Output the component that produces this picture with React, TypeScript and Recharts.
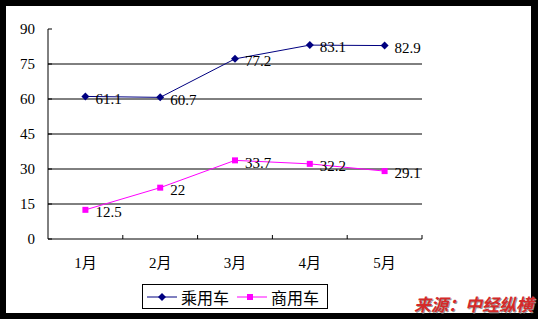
import { LineChart, Line, XAxis, YAxis, CartesianGrid } from "recharts";

const categories = ["1月", "2月", "3月", "4月", "5月"];
const passenger = [61.1, 60.7, 77.2, 83.1, 82.9];
const commercial = [12.5, 22, 33.7, 32.2, 29.1];
const seriesNames = ["乘用车", "商用车"];
const yTicks = [0, 15, 30, 45, 60, 75, 90];
const gridValues = [15, 30, 45, 60, 75];

const data = categories.map((month, i) => ({
  month,
  passenger: passenger[i],
  commercial: commercial[i],
}));

const W = 538;
const H = 319;
const margin = { top: 29, right: 116, left: 0, bottom: 50 };
const yAxisWidth = 48;
const bandWidth = (W - margin.left - margin.right - yAxisWidth) / categories.length;

const serif = "'Liberation Serif', 'Noto Sans CJK SC', serif";
const NAVY = "#000080";
const MAGENTA = "#FF00FF";

function Diamond({ cx, cy, fill }: any) {
  if (cx == null || cy == null) return null;
  return (
    <path
      d={`M${cx},${cy - 4}L${cx + 4},${cy}L${cx},${cy + 4}L${cx - 4},${cy}Z`}
      fill={fill}
    />
  );
}

function Square({ cx, cy, fill }: any) {
  if (cx == null || cy == null) return null;
  return <rect x={cx - 3} y={cy - 3} width={6} height={6} fill={fill} />;
}

function YTick({ x, y, payload }: any) {
  return (
    <g>
      <text x={x} y={y} dy="0.35em" textAnchor="end" fontSize={15} fontFamily={serif} fill="#000">
        {payload.value}
      </text>
      <line x1={x + 13} x2={x + 17} y1={y} y2={y} stroke="#000" />
    </g>
  );
}

function XTick({ x, y, payload, index }: any) {
  const last = index === categories.length - 1;
  return (
    <g>
      <text x={x} y={y + 24} dy="0.35em" textAnchor="middle" fontSize={15} fontFamily={serif} fill="#000">
        {payload.value}
      </text>
      {index > 0 && (
        <line x1={x - bandWidth / 2} x2={x - bandWidth / 2} y1={y - 4} y2={y} stroke="#000" />
      )}
      {last && (
        <line x1={x + bandWidth / 2} x2={x + bandWidth / 2} y1={y - 4} y2={y} stroke="#000" />
      )}
    </g>
  );
}

const labelStyle = {
  position: "right" as const,
  offset: 10,
  fill: "#000",
  fontSize: 15,
  fontFamily: serif,
  dy: 2,
};

export default function App() {
  return (
    <div style={{ position: "absolute", left: 0, top: 0, width: W, height: H, background: "#fff" }}>
      <div
        style={{
          position: "absolute",
          left: 0,
          top: 0,
          width: W,
          height: H,
          boxSizing: "border-box",
          borderStyle: "solid",
          borderColor: "#000",
          borderWidth: "6px 7px 6px 6px",
        }}
      />
      <div style={{ position: "absolute", left: 0, top: 0 }}>
        <LineChart width={W} height={H} data={data} margin={margin}>
          <CartesianGrid
            horizontal
            vertical={false}
            horizontalValues={gridValues}
            stroke="#000"
            strokeOpacity={1}
          />
          <XAxis
            dataKey="month"
            height={30}
            padding={{ left: bandWidth / 2, right: bandWidth / 2 }}
            axisLine={{ stroke: "#000" }}
            tickLine={false}
            tickSize={0}
            tickMargin={0}
            interval={0}
            tick={<XTick />}
          />
          <YAxis
            width={yAxisWidth}
            domain={[0, 90]}
            ticks={yTicks}
            interval={0}
            axisLine={{ stroke: "#000" }}
            tickLine={false}
            tickSize={0}
            tickMargin={13}
            tick={<YTick />}
          />
          <Line
            dataKey="passenger"
            name={seriesNames[0]}
            stroke={NAVY}
            strokeWidth={1}
            isAnimationActive={false}
            dot={(p: any) => <Diamond key={`d${p.index}`} cx={p.cx} cy={p.cy} fill={NAVY} />}
            activeDot={false}
            label={labelStyle}
          />
          <Line
            dataKey="commercial"
            name={seriesNames[1]}
            stroke={MAGENTA}
            strokeWidth={1}
            isAnimationActive={false}
            dot={(p: any) => <Square key={`s${p.index}`} cx={p.cx} cy={p.cy} fill={MAGENTA} />}
            activeDot={false}
            label={labelStyle}
          />
        </LineChart>
      </div>
      <div
        style={{
          position: "absolute",
          left: 142,
          top: 284,
          width: 186,
          height: 25,
          boxSizing: "border-box",
          border: "1px solid #000",
          display: "flex",
          alignItems: "center",
          fontFamily: "'Noto Sans CJK SC', sans-serif",
          fontSize: 16,
          color: "#000",
          background: "#fff",
        }}
      >
        <svg width={34} height={12} style={{ marginLeft: 4 }}>
          <line x1={0} x2={30} y1={6} y2={6} stroke={NAVY} />
          <Diamond cx={15} cy={6} fill={NAVY} />
        </svg>
        <span style={{ lineHeight: "16px" }}>{seriesNames[0]}</span>
        <svg width={34} height={12} style={{ marginLeft: 8 }}>
          <line x1={0} x2={30} y1={6} y2={6} stroke={MAGENTA} />
          <Square cx={13} cy={6} fill={MAGENTA} />
        </svg>
        <span style={{ lineHeight: "16px" }}>{seriesNames[1]}</span>
      </div>
      <div
        style={{
          position: "absolute",
          left: 414,
          top: 294,
          fontFamily: "'Noto Sans CJK SC', sans-serif",
          fontWeight: 700,
          fontStyle: "italic",
          fontSize: 17,
          lineHeight: "20px",
          color: "#D42A2A",
          textShadow: "1px 1px 0 #999",
          whiteSpace: "nowrap",
        }}
      >
        来源：中经纵横
      </div>
    </div>
  );
}
